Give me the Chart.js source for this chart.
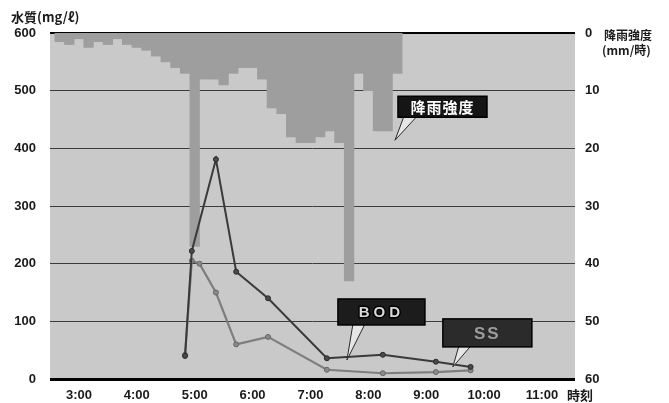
<!DOCTYPE html>
<html>
<head>
<meta charset="utf-8">
<script src="https://cdn.jsdelivr.net/npm/chart.js@4/dist/chart.umd.min.js"></script>
<style>
  html, body { margin: 0; padding: 0; background: #ffffff; }
  #wrap { width: 669px; height: 403px; position: relative; }
</style>
</head>
<body>
<div id="wrap"><canvas id="c" width="669" height="403"></canvas></div>
<script>
// Axis ticks
const HOUR_TICKS = [3, 4, 5, 6, 7, 8, 9, 10, 11];
const HOUR_LABELS = ['3:00', '4:00', '5:00', '6:00', '7:00', '8:00', '9:00', '10:00', '11:00'];
const QUALITY_TICKS = [0, 100, 200, 300, 400, 500, 600];
const RAIN_TICKS = [0, 10, 20, 30, 40, 50, 60];

// Rainfall intensity (mm/h), 10-minute blocks
const RAIN_TIMES = ['2:40', '2:50', '3:00', '3:10', '3:20', '3:30', '3:40', '3:50',
                    '4:00', '4:10', '4:20', '4:30', '4:40', '4:50',
                    '5:00', '5:10', '5:20', '5:30', '5:40', '5:50',
                    '6:00', '6:10', '6:20', '6:30', '6:40', '6:50',
                    '7:00', '7:10', '7:20', '7:30', '7:40', '7:50',
                    '8:00', '8:10', '8:20', '8:30'];
const RAIN_MM = [1.5, 2, 1, 2.5, 1.5, 2, 1, 2,
                 2.5, 3, 4, 5, 6, 7,
                 37, 8, 8, 9, 7, 6,
                 6, 8, 13, 14, 18, 19,
                 19, 18, 17, 19, 43, 7,
                 10, 17, 17, 7];

// Water quality samples (mg/l)
const BOD_TIMES = ['4:50', '4:57', '5:22', '5:43', '6:16', '7:17', '8:15', '9:10', '9:46'];
const BOD_MG = [40, 222, 381, 186, 140, 36, 42, 30, 21];
const SS_TIMES = ['4:50', '4:57', '5:05', '5:22', '5:43', '6:16', '7:17', '8:15', '9:10', '9:46'];
const SS_MG = [42, 205, 200, 150, 60, 73, 16, 10, 12, 15];

const toHours = s => { const [h, m] = s.split(':').map(Number); return h + m / 60; };
const pairs = (times, vals) => times.map((t, i) => ({ x: toHours(t), y: vals[i] }));

const NUM_FONT = { family: '"Liberation Sans", Arial, sans-serif', size: 13, weight: 'bold' };
const JP_FONT = '"Noto Sans CJK JP", sans-serif';

// Plot-area fill under the grid
const plotFill = {
  id: 'plotFill',
  beforeDraw(chart) {
    const { ctx, chartArea: a } = chart;
    ctx.save();
    ctx.fillStyle = '#c9c9c9';
    ctx.fillRect(a.left, a.top, a.right - a.left, a.bottom - a.top);
    ctx.restore();
  }
};

// Axis titles
const axisTitles = {
  id: 'axisTitles',
  afterDraw(chart) {
    const { ctx, scales } = chart;
    ctx.save();
    ctx.fillStyle = '#1a1a1a';
    ctx.textBaseline = 'middle';
    ctx.textAlign = 'left';
    ctx.font = 'bold 13px ' + JP_FONT;
    ctx.fillText('水質(mg/ℓ)', 11, 17);
    ctx.font = 'bold 12px ' + JP_FONT;
    ctx.fillText('降雨強度', 604, 35);
    ctx.fillText('(mm/時)', 602, 50);
    ctx.font = 'bold 13px ' + JP_FONT;
    const y = scales.x.bottom - 8;
    ctx.fillText('時刻', 567, 395);
    ctx.restore();
  }
};

// Boxed labels with pointer wedges
function callout(ctx, tipX, tipY, box, baseL, baseR, text, opts) {
  ctx.save();
  // pointer wedge
  ctx.beginPath();
  ctx.moveTo(baseL, box.y + box.h - 1);
  ctx.lineTo(tipX, tipY);
  ctx.lineTo(baseR, box.y + box.h - 1);
  ctx.closePath();
  ctx.fillStyle = '#e6e6e6';
  ctx.fill();
  ctx.lineWidth = 1;
  ctx.strokeStyle = '#2a2a2a';
  ctx.stroke();
  // box
  ctx.fillStyle = opts.boxFill;
  ctx.fillRect(box.x, box.y, box.w, box.h);
  ctx.strokeStyle = '#000';
  ctx.lineWidth = 1.5;
  ctx.strokeRect(box.x, box.y, box.w, box.h);
  // text
  ctx.font = opts.font;
  ctx.textAlign = 'center';
  ctx.textBaseline = 'middle';
  if ('letterSpacing' in ctx) ctx.letterSpacing = opts.spacing || '0px';
  if (opts.outline) {
    ctx.lineWidth = 3;
    ctx.strokeStyle = opts.outline;
    ctx.lineJoin = 'round';
    ctx.strokeText(text, box.x + box.w / 2, box.y + box.h / 2 + 1);
  }
  ctx.fillStyle = opts.textFill;
  ctx.fillText(text, box.x + box.w / 2, box.y + box.h / 2 + 1);
  ctx.restore();
}

const labels = {
  id: 'labels',
  afterDatasetsDraw(chart) {
    const { ctx, scales } = chart;
    const x = scales.x, y = scales.y, y2 = scales.y2;

    // rainfall label
    let tx = x.getPixelForValue(8.46), ty = y2.getPixelForValue(18.6);
    callout(ctx, tx, ty, { x: tx + 3, y: ty - 44, w: 89, h: 21 }, tx + 9, tx + 22, '降雨強度',
      { boxFill: '#151515', textFill: '#ffffff', outline: null, font: 'bold 15px ' + JP_FONT, spacing: '1px' });

    // BOD label
    tx = x.getPixelForValue(7.63); ty = y.getPixelForValue(33);
    callout(ctx, tx, ty, { x: tx - 9, y: ty - 61, w: 87, h: 26 }, tx + 6, tx + 18, 'BOD',
      { boxFill: '#1c1c1c', textFill: '#d8d8d8', outline: '#000', font: 'bold 15px "Liberation Sans", Arial, sans-serif', spacing: '4px' });

    // SS label
    tx = x.getPixelForValue(9.46); ty = y.getPixelForValue(21);
    callout(ctx, tx, ty, { x: tx - 10, y: ty - 48, w: 89, h: 28 }, tx + 6, tx + 18, 'SS',
      { boxFill: '#2b2b2b', textFill: '#9c9c9c', outline: null, font: 'bold 17px "Liberation Sans", Arial, sans-serif', spacing: '2px' });
  }
};

new Chart(document.getElementById('c'), {
  type: 'bar',
  data: {
    datasets: [
      {
        type: 'line',
        label: 'BOD',
        data: pairs(BOD_TIMES, BOD_MG),
        yAxisID: 'y',
        borderColor: '#3a3a3a',
        borderWidth: 2,
        pointRadius: 2.5,
        pointBackgroundColor: '#4a4a4a',
        pointBorderColor: '#2a2a2a',
        pointBorderWidth: 1,
        tension: 0,
        order: 1
      },
      {
        type: 'line',
        label: 'SS',
        data: pairs(SS_TIMES, SS_MG),
        yAxisID: 'y',
        borderColor: '#7e7e7e',
        borderWidth: 2.2,
        pointRadius: 2.5,
        pointBackgroundColor: '#8a8a8a',
        pointBorderColor: '#666',
        pointBorderWidth: 1,
        tension: 0,
        order: 2
      },
      {
        type: 'bar',
        label: '降雨強度',
        data: pairs(RAIN_TIMES, RAIN_MM),
        yAxisID: 'y2',
        backgroundColor: '#9e9e9e',
        borderWidth: 0,
        barPercentage: 1,
        categoryPercentage: 1,
        order: 3
      }
    ]
  },
  options: {
    responsive: false,
    animation: false,
    devicePixelRatio: 1,
    layout: { padding: { top: 33, left: 0, right: 0, bottom: 0 } },
    plugins: { legend: { display: false }, tooltip: { enabled: false } },
    scales: {
      x: {
        type: 'linear',
        min: 2.5,
        max: 11.57,
        offset: false,
        grid: { display: false, drawTicks: false },
        border: { display: false },
        afterBuildTicks: s => { s.ticks = HOUR_TICKS.map(v => ({ value: v })); },
        afterFit: s => { s.height = 24; },
        ticks: {
          autoSkip: false,
          maxRotation: 0,
          padding: 9,
          color: '#1a1a1a',
          font: NUM_FONT,
          callback: v => HOUR_LABELS[HOUR_TICKS.indexOf(v)]
        }
      },
      y: {
        position: 'left',
        min: 0,
        max: 600,
        afterBuildTicks: s => { s.ticks = QUALITY_TICKS.map(v => ({ value: v })); },
        afterFit: s => { s.width = 50; },
        border: { display: false },
        grid: {
          drawTicks: false,
          color: c => (c.tick.value === 0 || c.tick.value === 600) ? '#000' : '#3c3c3c',
          lineWidth: c => c.tick.value === 0 ? 3 : (c.tick.value === 600 ? 2 : 1)
        },
        ticks: { padding: 14, color: '#1a1a1a', font: NUM_FONT }
      },
      y2: {
        position: 'right',
        reverse: true,
        min: 0,
        max: 60,
        afterBuildTicks: s => { s.ticks = RAIN_TICKS.map(v => ({ value: v })); },
        afterFit: s => { s.width = 94; },
        border: { display: false },
        grid: { display: false, drawTicks: false },
        ticks: { padding: 10, color: '#1a1a1a', font: NUM_FONT }
      }
    }
  },
  plugins: [plotFill, labels, axisTitles]
});
</script>
</body>
</html>
